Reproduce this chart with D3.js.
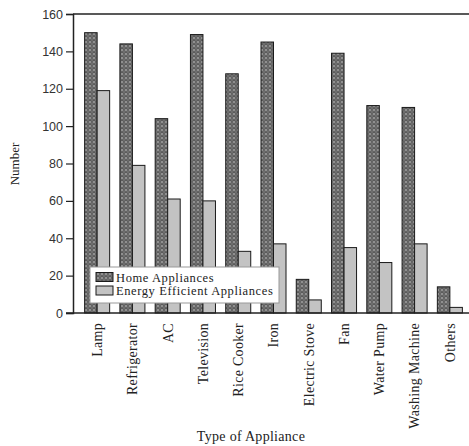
<!DOCTYPE html>
<html><head><meta charset="utf-8">
<script src="https://cdn.jsdelivr.net/npm/d3@7"></script>
<style>html,body{margin:0;padding:0;background:#fff;}svg{display:block;}</style>
</head><body>
<script>
const categories = ["Lamp","Refrigerator","AC","Television","Rice Cooker","Iron","Electric Stove","Fan","Water Pump","Washing Machine","Others"];
const homeAppliances = [150,144,104,149,128,145,18,139,111,110,14];
const energyEfficient = [119,79,61,60,33,37,7,35,27,37,3];
const seriesNames = ["Home Appliances","Energy Efficient Appliances"];
const yTicks = [0,20,40,60,80,100,120,140,160];

(function(){
const W = 469, H = 446;
const serif = "'Liberation Serif', 'Times New Roman', serif";
const svg = d3.select("body").append("svg").attr("width", W).attr("height", H);
const defs = svg.append("defs");
const pat = defs.append("pattern").attr("id","hatch").attr("patternUnits","userSpaceOnUse")
  .attr("width",4).attr("height",4);
pat.append("rect").attr("width",4).attr("height",4).attr("fill","#454545");
pat.append("circle").attr("cx",2).attr("cy",2).attr("r",1.6).attr("fill","#909090");
[[0,0],[4,0],[0,4],[4,4]].forEach(p=>pat.append("circle").attr("cx",p[0]).attr("cy",p[1]).attr("r",0.9).attr("fill","#808080"));

const mLeft = 73, mRight = 469, mTop = 14, mBottom = 313;
const x = d3.scaleBand().domain(categories).range([79.5, 467.5]).padding(0);
const x1 = d3.scaleBand().domain(seriesNames).range([0, x.bandwidth()]).paddingInner(0).paddingOuter(0.41);
const y = d3.scaleLinear().domain([0,160]).range([mBottom, mTop]);

const data = categories.map((c,i)=>({cat:c, vals:[homeAppliances[i], energyEfficient[i]]}));
const fills = ["url(#hatch)", "#c3c3c3"];

const g = svg.append("g");
data.forEach(d=>{
  d.vals.forEach((v,j)=>{
    g.append("rect")
      .attr("x", x(d.cat) + x1(seriesNames[j]))
      .attr("y", y(v))
      .attr("width", x1.bandwidth())
      .attr("height", y(0)-y(v))
      .attr("fill", fills[j])
      .attr("stroke", "#1a1a1a")
      .attr("stroke-width", 1);
  });
});

svg.append("line").attr("x1",mLeft).attr("x2",mRight).attr("y1",mTop).attr("y2",mTop)
  .attr("stroke","#222").attr("stroke-width",1.5);

const yAxis = svg.append("g").attr("transform",`translate(${mLeft},0)`)
  .call(d3.axisLeft(y).tickValues(yTicks).tickSize(7).tickPadding(3));
yAxis.select(".domain").attr("stroke","#222").attr("stroke-width",1.5);
yAxis.selectAll(".tick line").attr("stroke","#222").attr("stroke-width",1.2);
yAxis.selectAll(".tick text").attr("font-family","'Liberation Sans', Arial, sans-serif")
  .attr("font-size",12.5).attr("fill","#333");

const xAxis = svg.append("g").attr("transform",`translate(0,${mBottom})`)
  .call(d3.axisBottom(x).tickSize(0).tickPadding(0));
xAxis.select(".domain").remove();
svg.append("line").attr("x1",mLeft-7).attr("x2",mRight).attr("y1",mBottom).attr("y2",mBottom)
  .attr("stroke","#222").attr("stroke-width",1.5);
xAxis.selectAll(".tick text")
  .attr("font-family",serif)
  .attr("font-size",14).attr("fill","#222")
  .attr("letter-spacing",0.3)
  .attr("text-anchor","end")
  .attr("dy","0.35em")
  .attr("transform","translate(0,10) rotate(-90)")
  .attr("x",0).attr("y",0);

svg.append("text").attr("x",251).attr("y",441).attr("text-anchor","middle")
  .attr("font-family",serif).attr("font-size",14).attr("letter-spacing",0.3)
  .attr("fill","#222").text("Type of Appliance");
svg.append("text").attr("transform","translate(19,164) rotate(-90)").attr("text-anchor","middle")
  .attr("font-family",serif).attr("font-size",13)
  .attr("fill","#222").text("Number");

const lg = svg.append("g");
lg.append("rect").attr("x",90).attr("y",267).attr("width",189).attr("height",36)
  .attr("fill","#fff").attr("stroke","#999").attr("stroke-width",1);
seriesNames.forEach((s,i)=>{
  lg.append("rect").attr("x",96).attr("y",272.5+i*13.5).attr("width",17).attr("height",9)
    .attr("fill",fills[i]).attr("stroke","#1a1a1a").attr("stroke-width",1);
  lg.append("text").attr("x",116).attr("y",281.5+i*13.5)
    .attr("font-family",serif).attr("font-size",12.5).attr("letter-spacing",0.6)
    .attr("fill","#222").text(s);
});
})();
</script>
</body></html>
